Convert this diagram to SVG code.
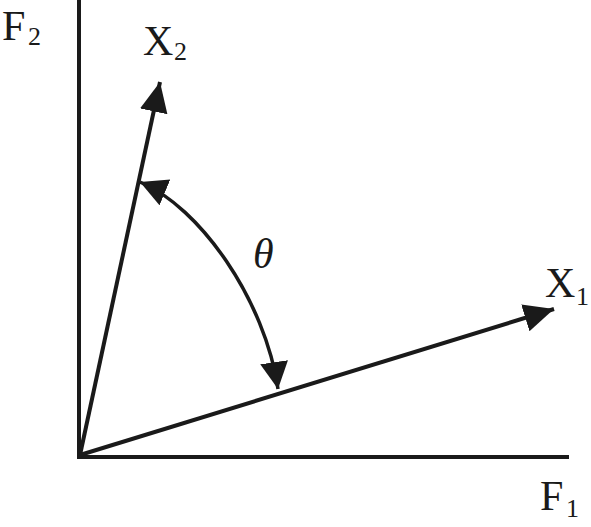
<svg xmlns="http://www.w3.org/2000/svg" width="591" height="527" viewBox="0 0 591 527">
<defs>
<style>
.ln{stroke:#1a1a1a;stroke-width:4;fill:none}
.arc{stroke:#1a1a1a;stroke-width:3.5;fill:none}
.t{font-family:"Liberation Serif","Times New Roman",serif;font-size:42px;fill:#1a1a1a}
.s{font-size:26px}
</style>
<marker id="ah" markerUnits="userSpaceOnUse" markerWidth="34" markerHeight="30" refX="30" refY="14" orient="auto-start-reverse" viewBox="0 0 34 30">
<path d="M0,0 L30,14 L0,28 Z" fill="#1a1a1a"/>
</marker>
<marker id="ah2" markerUnits="userSpaceOnUse" markerWidth="30" markerHeight="30" refX="27" refY="14" orient="auto-start-reverse" viewBox="0 0 30 30">
<path d="M0,0 L27,14 L0,28 Z" fill="#1a1a1a"/>
</marker>
</defs>
<g id="axes">
<path class="ln" d="M79,0 L79,457 L569,457"/>
</g>
<g id="connectors">
<line id="x2-vector" class="ln" x1="80" y1="455" x2="160" y2="82" marker-end="url(#ah)"/>
<line id="x1-vector" class="ln" x1="80" y1="455" x2="554" y2="309" marker-end="url(#ah)"/>
<path id="theta-arc" class="arc" d="M140,182 C200,207 265,300 278,389" marker-start="url(#ah2)" marker-end="url(#ah2)"/>
</g>
<g id="label-F2"><text class="t" x="2" y="40">F<tspan class="s" x="28" y="45">2</tspan></text></g>
<g id="label-X2"><text class="t" x="143" y="55">X<tspan class="s" x="174" y="60">2</tspan></text></g>
<g id="label-X1"><text class="t" x="545" y="297">X<tspan class="s" x="576" y="305">1</tspan></text></g>
<g id="label-F1"><text class="t" x="540" y="510">F<tspan class="s" x="566" y="517">1</tspan></text></g>
<g id="label-theta"><text class="t" x="253" y="268" font-size="44" font-style="italic">θ</text></g>
</svg>
